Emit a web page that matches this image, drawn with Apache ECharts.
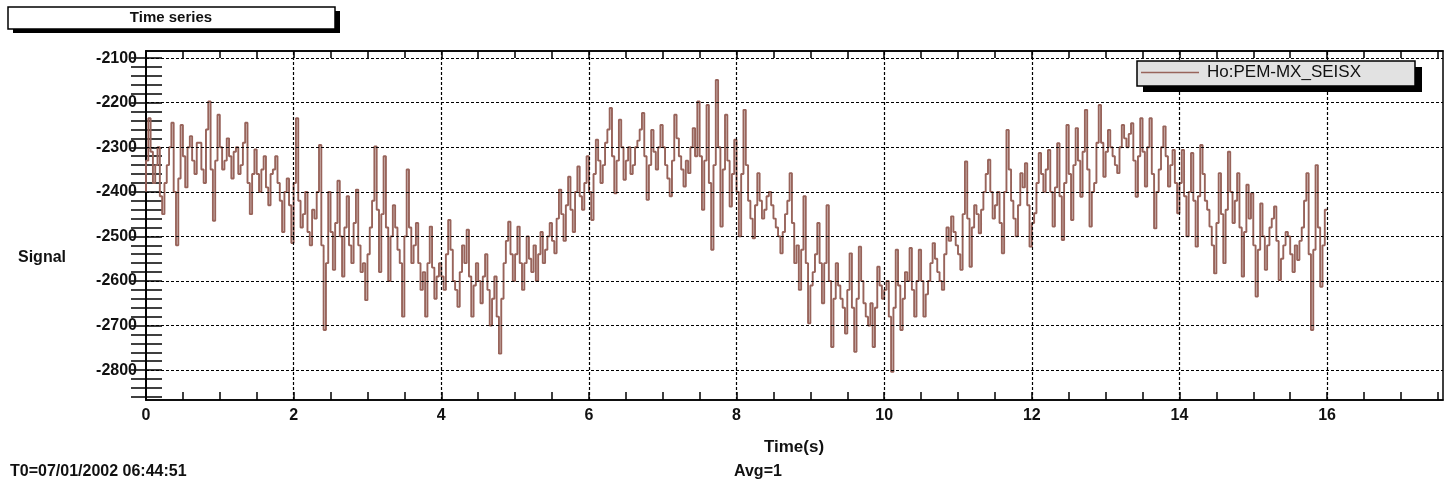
<!DOCTYPE html>
<html>
<head>
<meta charset="utf-8">
<title>Time series</title>
<script src="https://cdn.jsdelivr.net/npm/echarts@6/dist/echarts.min.js"></script>
<style>
  html, body { margin: 0; padding: 0; background: #fff; }
  #chart { width: 1449px; height: 489px; }
</style>
</head>
<body>
<div id="chart"></div>
<script>
// channel, one value every 1/32 s from 0 to 16 s
const channelName = 'Ho:PEM-MX_SEISX'
const sampleStep = 1 / 32
const signal = [
  -2400, -2330, -2235, -2310, -2380, -2340, -2300, -2410, -2450, -2380, -2340, -2300, -2245, -2400, -2520, -2370,
  -2250, -2320, -2390, -2300, -2275, -2330, -2360, -2290, -2290, -2350, -2380, -2260, -2197, -2350, -2465, -2330,
  -2227, -2300, -2350, -2330, -2280, -2320, -2370, -2310, -2300, -2360, -2340, -2290, -2245, -2380, -2450, -2360,
  -2305, -2360, -2400, -2350, -2320, -2390, -2430, -2360, -2350, -2320, -2380, -2420, -2490, -2400, -2370, -2430,
  -2515, -2380, -2235, -2420, -2480, -2450, -2400, -2490, -2520, -2440, -2460, -2400, -2295, -2520, -2710, -2560,
  -2400, -2490, -2575, -2470, -2375, -2500, -2590, -2480, -2410, -2520, -2560, -2470, -2395, -2520, -2580, -2560,
  -2643, -2540, -2480, -2420, -2298, -2440, -2580, -2450, -2320, -2480, -2600, -2500, -2430, -2480, -2530, -2560,
  -2680, -2500, -2350, -2480, -2560, -2520, -2470, -2560, -2620, -2580, -2680, -2560, -2478, -2570, -2640, -2590,
  -2560, -2590, -2620, -2540, -2463, -2530, -2600, -2620, -2658, -2580, -2520, -2560, -2485, -2590, -2680, -2610,
  -2560, -2600, -2650, -2590, -2540, -2620, -2700, -2640, -2590, -2680, -2763, -2640, -2560, -2510, -2467, -2540,
  -2600, -2540, -2478, -2560, -2620, -2560, -2500, -2550, -2580, -2520, -2600, -2540, -2490, -2560, -2530, -2500,
  -2470, -2510, -2538, -2460, -2395, -2450, -2510, -2430, -2366, -2440, -2490, -2400, -2343, -2410, -2440, -2380,
  -2320, -2400, -2463, -2360, -2283, -2330, -2380, -2340, -2290, -2260, -2212, -2320, -2403, -2330, -2238, -2300,
  -2373, -2330, -2300, -2360, -2340, -2300, -2285, -2260, -2223, -2320, -2418, -2340, -2261, -2310, -2350, -2300,
  -2250, -2300, -2340, -2370, -2410, -2330, -2227, -2280, -2320, -2350, -2388, -2330, -2358, -2300, -2257, -2320,
  -2197, -2320, -2440, -2330, -2205, -2380, -2530, -2340, -2149, -2300, -2478, -2350, -2227, -2330, -2433, -2360,
  -2283, -2400, -2500, -2360, -2216, -2340, -2420, -2460, -2504, -2430, -2358, -2420, -2460, -2440, -2410, -2400,
  -2430, -2460, -2480, -2500, -2538, -2490, -2450, -2420, -2358, -2470, -2560, -2520, -2620, -2530, -2410, -2560,
  -2695, -2610, -2580, -2540, -2470, -2560, -2650, -2560, -2430, -2600, -2748, -2640, -2560, -2610, -2640, -2660,
  -2718, -2620, -2538, -2660, -2759, -2640, -2523, -2600, -2650, -2680, -2700, -2650, -2748, -2660, -2568, -2610,
  -2640, -2620, -2600, -2680, -2804, -2660, -2530, -2610, -2710, -2640, -2580, -2600, -2526, -2620, -2680, -2600,
  -2530, -2600, -2680, -2630, -2600, -2560, -2515, -2550, -2580, -2600, -2620, -2540, -2480, -2510, -2455, -2490,
  -2520, -2540, -2575, -2450, -2332, -2460, -2568, -2480, -2430, -2450, -2493, -2440, -2400, -2360, -2328, -2400,
  -2460, -2430, -2400, -2470, -2538, -2400, -2261, -2350, -2420, -2460, -2500, -2430, -2358, -2390, -2336, -2430,
  -2523, -2470, -2448, -2380, -2313, -2360, -2400, -2350, -2306, -2400, -2478, -2390, -2291, -2410, -2508, -2380,
  -2250, -2360, -2463, -2340, -2257, -2330, -2411, -2310, -2216, -2350, -2478, -2400, -2380, -2290, -2205, -2290,
  -2366, -2310, -2261, -2300, -2320, -2340, -2358, -2300, -2250, -2280, -2300, -2270, -2246, -2330, -2411, -2320,
  -2235, -2310, -2388, -2300, -2235, -2360, -2482, -2400, -2350, -2300, -2253, -2320, -2388, -2340, -2306, -2380,
  -2448, -2380, -2306, -2410, -2500, -2400, -2313, -2420, -2523, -2410, -2295, -2360, -2420, -2440, -2478, -2520,
  -2583, -2470, -2358, -2450, -2560, -2440, -2310, -2400, -2470, -2420, -2358, -2480, -2590, -2490, -2384, -2460,
  -2403, -2520, -2635, -2530, -2426, -2500, -2575, -2520, -2480, -2460, -2433, -2510, -2598, -2550, -2520, -2490,
  -2500, -2540, -2580, -2520, -2553, -2510, -2480, -2420, -2358, -2540, -2710, -2530, -2340, -2480, -2613, -2520,
  -2440
]

// axis ticks
const xMajor = [0, 2, 4, 6, 8, 10, 12, 14, 16]
const xRange = [0, 17.57]
const yMajor = [-2800, -2700, -2600, -2500, -2400, -2300, -2200, -2100]
const yRange = [-2867, -2084]

const xAll = []
for (let t = 0; t <= xRange[1]; t += 0.5) xAll.push(t)
const yAll = []
for (let v = -2860; v <= -2100; v += 20) yAll.push(v)

const font = 'Liberation Sans'
const ink = '#111'
const traceColor = '#98645b'

const chart = echarts.init(document.getElementById('chart'))

const hiddenLabel = { show: false }
const tickStyle = { color: '#000', width: 1.5 }
const labelStyle = { fontFamily: font, fontSize: 16, fontWeight: 'bold', color: ink }

const option = {
  animation: false,
  backgroundColor: '#fff',
  grid: {
    left: 146, top: 51, right: 6, bottom: 89,
    show: true, borderColor: '#000', borderWidth: 1.5,
    outerBoundsMode: 'none',
  },
  legend: {
    data: [{ name: channelName, icon: 'rect' }],
    left: 1141, top: 64,
    padding: 0,
    itemWidth: 58, itemHeight: 1.5, itemGap: 0,
    z: 20,
    textStyle: { fontFamily: font, fontSize: 17, color: ink, padding: [0, 0, 0, 3] },
  },
  xAxis: [
    {
      type: 'value', position: 'bottom', min: xRange[0], max: xRange[1],
      axisLine: { show: true, lineStyle: { color: '#000', width: 1.5 } },
      axisTick: { show: true, inside: true, length: 8, customValues: xAll, lineStyle: tickStyle },
      axisLabel: { customValues: xMajor, margin: 8, ...labelStyle },
      splitLine: { show: false },
    },
    {
      type: 'value', position: 'top', min: xRange[0], max: xRange[1],
      axisLine: { show: true, lineStyle: { color: '#000', width: 1.5 } },
      axisTick: { show: true, inside: true, length: 7, customValues: xAll, lineStyle: tickStyle },
      axisLabel: hiddenLabel,
      splitLine: { show: false },
    },
  ],
  yAxis: [
    {
      type: 'value', position: 'left', min: yRange[0], max: yRange[1],
      axisLine: { show: true, lineStyle: { color: '#000', width: 1.5 } },
      axisTick: { show: true, inside: true, length: 16, customValues: yAll, lineStyle: tickStyle },
      axisLabel: { customValues: yMajor, margin: 9, formatter: v => String(v), ...labelStyle },
      splitLine: { show: false },
    },
    {
      type: 'value', position: 'right', min: yRange[0], max: yRange[1],
      axisLine: { show: true, lineStyle: { color: '#000', width: 1.5 } },
      axisTick: { show: true, inside: true, length: 15, customValues: yAll, lineStyle: tickStyle },
      axisLabel: hiddenLabel,
      splitLine: { show: false },
    },
  ],
  graphic: [
    // title box
    { type: 'rect', z: 10, shape: { x: 13, y: 11, width: 327, height: 22 }, style: { fill: '#000' } },
    { type: 'rect', z: 11, shape: { x: 8, y: 7, width: 327, height: 22 }, style: { fill: '#fff', stroke: '#000', lineWidth: 1.5 } },
    { type: 'text', z: 12, x: 171, y: 18, style: { text: 'Time series', fontFamily: font, fontSize: 15, fontWeight: 'bold', fill: ink, align: 'center', verticalAlign: 'middle' } },
    // legend box
    { type: 'rect', z: 10, shape: { x: 1143, y: 67, width: 279, height: 25 }, style: { fill: '#000' } },
    { type: 'rect', z: 11, shape: { x: 1137, y: 61, width: 278, height: 25 }, style: { fill: '#e2e2e2', stroke: '#000', lineWidth: 1.5 } },
    // loose texts
    { type: 'text', x: 18, y: 258, style: { text: 'Signal', fontFamily: font, fontSize: 16, fontWeight: 'bold', fill: ink, verticalAlign: 'middle' } },
    { type: 'text', x: 794, y: 447, style: { text: 'Time(s)', fontFamily: font, fontSize: 17, fontWeight: 'bold', fill: ink, align: 'center', verticalAlign: 'middle' } },
    { type: 'text', x: 10, y: 472, style: { text: 'T0=07/01/2002 06:44:51', fontFamily: font, fontSize: 16, fontWeight: 'bold', fill: ink, verticalAlign: 'middle' } },
    { type: 'text', x: 734, y: 472, style: { text: 'Avg=1', fontFamily: font, fontSize: 16, fontWeight: 'bold', fill: ink, verticalAlign: 'middle' } },
  ],
  series: [
    {
      // dashed grid at the major ticks, drawn over the trace
      name: 'grid',
      type: 'line',
      data: [],
      silent: true,
      z: 4,
      markLine: {
        silent: true,
        symbol: 'none',
        label: { show: false },
        lineStyle: { color: '#000', type: [3, 2], width: 1.2 },
        data: [
          ...xMajor.filter(v => v > 0).map(v => ({ xAxis: v })),
          ...yMajor.map(v => ({ yAxis: v })),
        ],
      },
    },
    {
      name: channelName,
      type: 'line',
      step: 'start',
      showSymbol: false,
      symbol: 'none',
      clip: true,
      z: 2,
      color: traceColor,
      lineStyle: { color: traceColor, width: 1.9 },
      data: signal.map((v, i) => [i * sampleStep, v]),
    },
  ],
}

chart.setOption(option)
</script>
</body>
</html>
